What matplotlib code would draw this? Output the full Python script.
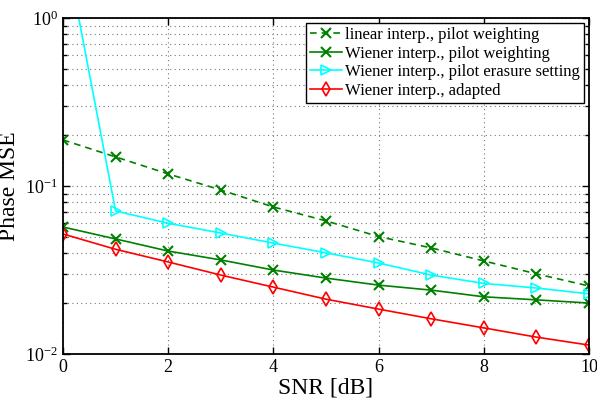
import numpy as np
import matplotlib.pyplot as plt
from matplotlib.ticker import LogLocator, NullFormatter

plt.rcParams['font.family'] = 'Liberation Serif'
plt.rcParams['mathtext.fontset'] = 'stix'

# datos
snr = [0, 1, 2, 3, 4, 5, 6, 7, 8, 9, 10]
mse_lin_pw = [0.188, 0.149, 0.118, 0.0947, 0.075, 0.062, 0.050, 0.0428, 0.0358, 0.030, 0.0254]
mse_wie_pw = [0.057, 0.0484, 0.041, 0.0363, 0.0316, 0.0283, 0.0257, 0.024, 0.0219, 0.021, 0.0201]
mse_wie_pe = [3.1, 0.071, 0.060, 0.0525, 0.0457, 0.040, 0.0348, 0.0295, 0.0263, 0.0247, 0.0228]
mse_wie_ad = [0.0518, 0.042, 0.0353, 0.0295, 0.025, 0.0212, 0.0185, 0.0162, 0.0143, 0.0126, 0.0113]

etiquetas = ['linear interp., pilot weighting', 'Wiener interp., pilot weighting',
             'Wiener interp., pilot erasure setting', 'Wiener interp., adapted']

verde = '#008000'
fig = plt.figure(figsize=(5.97, 3.99), dpi=100)
ax = fig.add_axes([0.1055, 0.1128, 0.8811, 0.8421])

ax.semilogy(snr, mse_lin_pw, color=verde, ls=(0, (4, 3)), marker='x', lw=1.2, ms=7, mew=1.5, label=etiquetas[0])
ax.semilogy(snr, mse_wie_pw, '-x', color=verde, lw=1.2, ms=7, mew=1.5, label=etiquetas[1])
ax.semilogy(snr, mse_wie_pe, '->', color='cyan', lw=1.2, ms=7.5, mew=1.2, mfc='none', label=etiquetas[2])
ax.semilogy(snr, mse_wie_ad, '-d', color='red', lw=1.2, ms=7.5, mew=1.2, mfc='none', label=etiquetas[3])

ax.set_xlim(0, 10)
ax.set_ylim(1e-2, 1e0)
ax.set_xticks([0, 2, 4, 6, 8, 10])
ax.yaxis.set_major_locator(LogLocator(base=10))
ax.yaxis.set_minor_locator(LogLocator(base=10, subs=np.arange(2, 10)))
ax.yaxis.set_minor_formatter(NullFormatter())
ax.tick_params(which='both', direction='in', top=True, right=True, labelsize=13, width=1.0)
ax.tick_params(which='major', length=5)
ax.tick_params(which='minor', length=3)
ax.grid(True, which='major', ls=(0, (1, 3)), color='#777777', lw=0.8)
ax.grid(True, which='minor', axis='y', ls=(0, (1, 3)), color='#777777', lw=0.8)
for s in ax.spines.values():
    s.set_linewidth(1.3)

ax.set_xlabel('SNR [dB]', fontsize=17, labelpad=1)
ax.set_ylabel('Phase MSE', fontsize=17, labelpad=4)

leg = ax.legend(loc='upper right', fontsize=12, fancybox=False, edgecolor='black',
                framealpha=1, borderpad=0.25, labelspacing=0.15, handlelength=1.9,
                handletextpad=0.2, borderaxespad=0.3)
leg.get_frame().set_linewidth(1.0)

plt.savefig('out.png', dpi=100)
